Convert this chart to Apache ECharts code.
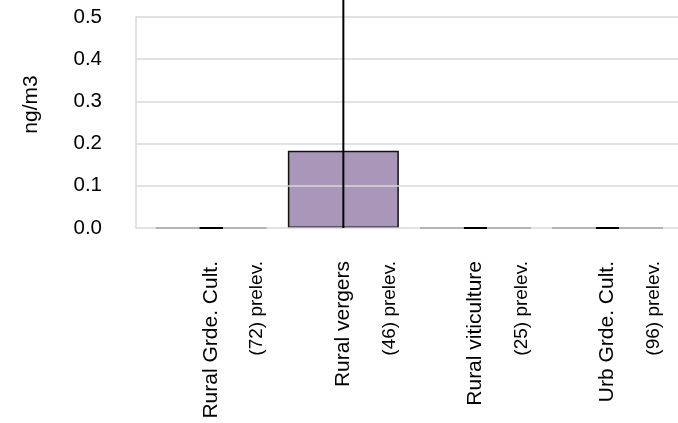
<!DOCTYPE html>
<html>
<head>
<meta charset="utf-8">
<script src="https://cdn.jsdelivr.net/npm/echarts@6/dist/echarts.min.js"></script>
<style>html,body{margin:0;padding:0;background:#fff;}#c{width:678px;height:423px;}</style>
</head>
<body>
<div id="c"></div>
<script>
// ---- data ----
var categories = ['Rural Grde. Cult.', 'Rural vergers', 'Rural viticulture', 'Urb Grde. Cult.'];
var sampleCounts = ['(72) prelev.', '(46) prelev.', '(25) prelev.', '(96) prelev.'];
var values = [0, 0.183, 0, 0];
var errors = [0, 0.40, 0, 0];
var yMin = 0, yMax = 0.5, yStep = 0.1;
var yName = 'ng/m3';

var FONT = "'Liberation Sans', Arial, sans-serif";
var chart = echarts.init(document.getElementById('c'), null, {renderer: 'canvas'});

var errData = values.map(function (v, i) { return [i, v, errors[i]]; });

chart.setOption({
  backgroundColor: '#fff',
  animation: false,
  grid: [
    {left: 136, top: 17, right: -4, bottom: 195, containLabel: false},
    {left: 145.2, top: 17, right: 4.4, bottom: 195, containLabel: false}
  ],
  xAxis: [
    {gridIndex: 0, type: 'category', data: categories, show: false},
    {
      gridIndex: 1, type: 'category', data: categories,
      axisLine: {show: false}, axisTick: {show: false},
      axisLabel: {
        rotate: 90, margin: 33, interval: 0,
        padding: [46, 0, 0, 0],
        formatter: function (val, idx) {
          return '{a|' + val + '}\n{b|' + sampleCounts[idx] + '}';
        },
        rich: {
          a: {fontSize: 21, fontFamily: FONT, color: '#000', lineHeight: 46},
          b: {fontSize: 19, fontFamily: FONT, color: '#000', lineHeight: 46}
        }
      }
    }
  ],
  yAxis: [
    {
      gridIndex: 0, type: 'value', min: yMin, max: yMax, interval: yStep, z: 5,
      name: yName, nameLocation: 'middle', nameRotate: 90, nameGap: 94,
      nameTextStyle: {fontSize: 21, fontFamily: FONT, color: '#000', padding: [0, 0, 0, 36]},
      axisLine: {show: true, lineStyle: {color: '#d9d9d9', width: 1.5}},
      axisTick: {show: false},
      splitLine: {show: true, lineStyle: {color: '#d9d9d9', width: 1.5}},
      axisLabel: {
        margin: 34, fontSize: 20.5, fontFamily: FONT, color: '#000',
        formatter: function (v) { return v.toFixed(1); }
      }
    },
    {
      gridIndex: 1, type: 'value', min: yMin, max: yMax, interval: yStep, show: false,
      splitLine: {show: false}
    }
  ],
  series: [
    {
      type: 'bar', xAxisIndex: 1, yAxisIndex: 1, data: values, barWidth: 111,
      itemStyle: {color: '#a996b8', borderColor: '#111', borderWidth: 1.5},
      z: 2
    },
    {
      type: 'custom', xAxisIndex: 1, yAxisIndex: 1, data: errData, z: 10, clip: false,
      renderItem: function (params, api) {
        var i = api.value(0), v = api.value(1), e = api.value(2);
        var lo = Math.max(yMin, v - e), hi = v + e;
        var pLo = api.coord([i, lo]), pHi = api.coord([i, hi]);
        var half = 11.5;
        var st = {stroke: '#000', lineWidth: 2};
        var kids = [
          {type: 'line', shape: {x1: pLo[0], y1: pLo[1], x2: pHi[0], y2: pHi[1]}, style: st},
          {type: 'line', shape: {x1: pHi[0] - half, y1: pHi[1], x2: pHi[0] + half, y2: pHi[1]}, style: st}
        ];
        if (v - e >= yMin) {
          kids.push({type: 'line', shape: {x1: pLo[0] - half, y1: pLo[1], x2: pLo[0] + half, y2: pLo[1]}, style: st});
        }
        return {type: 'group', children: kids};
      }
    }
  ]
});
</script>
</body>
</html>
